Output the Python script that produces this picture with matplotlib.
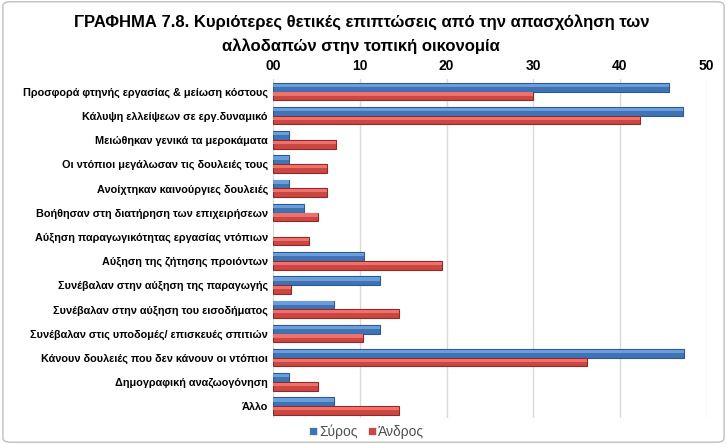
import matplotlib
matplotlib.use("Agg")
import matplotlib.pyplot as plt
from matplotlib.patches import FancyBboxPatch
import numpy as np

plt.rcParams['font.family'] = ['Liberation Sans Narrow', 'Liberation Sans', 'DejaVu Sans']

categories = [
    'Προσφορά φτηνής εργασίας & μείωση κόστους',
    'Κάλυψη ελλείψεων σε εργ.δυναμικό',
    'Μειώθηκαν γενικά τα μεροκάματα',
    'Οι ντόπιοι μεγάλωσαν τις δουλειές τους',
    'Ανοίχτηκαν καινούργιες δουλειές',
    'Βοήθησαν στη διατήρηση των επιχειρήσεων',
    'Αύξηση παραγωγικότητας εργασίας ντόπιων',
    'Αύξηση της ζήτησης προιόντων',
    'Συνέβαλαν στην αύξηση της παραγωγής',
    'Συνέβαλαν στην αύξηση του εισοδήματος',
    'Συνέβαλαν στις υποδομές/ επισκευές σπιτιών',
    'Κάνουν δουλειές που δεν κάνουν οι ντόπιοι',
    'Δημογραφική αναζωογόνηση',
    'Άλλο',
]
syros = [45.6, 47.3, 1.8, 1.8, 1.8, 3.5, 0.0, 10.5, 12.3, 7.0, 12.3, 47.4, 1.8, 7.0]
andros = [30.0, 42.3, 7.2, 6.2, 6.2, 5.1, 4.1, 19.5, 2.0, 14.5, 10.3, 36.2, 5.1, 14.5]
ticks = [0, 10, 20, 30, 40, 50]
tick_labels = ['00', '10', '20', '30', '40', '50']

fig = plt.figure(figsize=(7.27, 4.44), dpi=100)
fig.patches.append(FancyBboxPatch((0.004, 0.004), 0.992, 0.992, boxstyle='round,pad=0,rounding_size=0.01',
                                  transform=fig.transFigure, facecolor='white',
                                  edgecolor='#bfbfbf', linewidth=1.0, zorder=-1))

ax = fig.add_axes([0.376, 0.058, 0.596, 0.763])
y = np.arange(len(categories))
h = 0.36


def shaded_bars(pos, vals, base, light, edge):
    edges = [edge if v > 0 else 'none' for v in vals]
    ax.barh(pos, vals, height=h, color=base, edgecolor=edges, linewidth=0.8, zorder=3)
    # lighter top strip, a rough stand-in for the excel bevel
    ax.barh(pos - h * 0.22, vals, height=h * 0.38, color=light, linewidth=0, zorder=4)


shaded_bars(y - h / 2, syros, '#3f73b4', '#6a9ddc', '#2c5a8f')
shaded_bars(y + h / 2, andros, '#cc4642', '#f0706c', '#8e2a27')

ax.set_ylim(len(categories) - 0.5, -0.5)
ax.set_xlim(0, 50)
ax.set_yticks(y)
ax.set_yticklabels(categories, fontsize=7.85, fontweight='bold')
ax.xaxis.tick_top()
ax.set_xticks(ticks)
ax.set_xticklabels(tick_labels, fontsize=10, fontweight='bold')
ax.tick_params(length=0, pad=4)
ax.tick_params(axis='x', pad=5)
ax.grid(axis='x', color='#d9d9d9', linewidth=1, zorder=0)
for s in ax.spines.values():
    s.set_visible(False)
ax.set_facecolor('none')

fig.text(0.497, 0.950, 'ΓΡΑΦΗΜΑ 7.8. Κυριότερες θετικές επιπτώσεις από την απασχόληση των',
         ha='center', va='center', fontsize=12, fontweight='bold')
fig.text(0.497, 0.897, 'αλλοδαπών στην τοπική οικονομία',
         ha='center', va='center', fontsize=12, fontweight='bold')

# legend
fig.text(0.430, 0.028, '■', color='#3f73b4', fontsize=11, va='center', ha='center')
fig.text(0.439, 0.027, 'Σύρος', color='#505050', fontsize=10, va='center')
fig.text(0.511, 0.028, '■', color='#cc4642', fontsize=11, va='center', ha='center')
fig.text(0.520, 0.027, 'Άνδρος', color='#505050', fontsize=10, va='center')

fig.savefig('out.png', dpi=100)
